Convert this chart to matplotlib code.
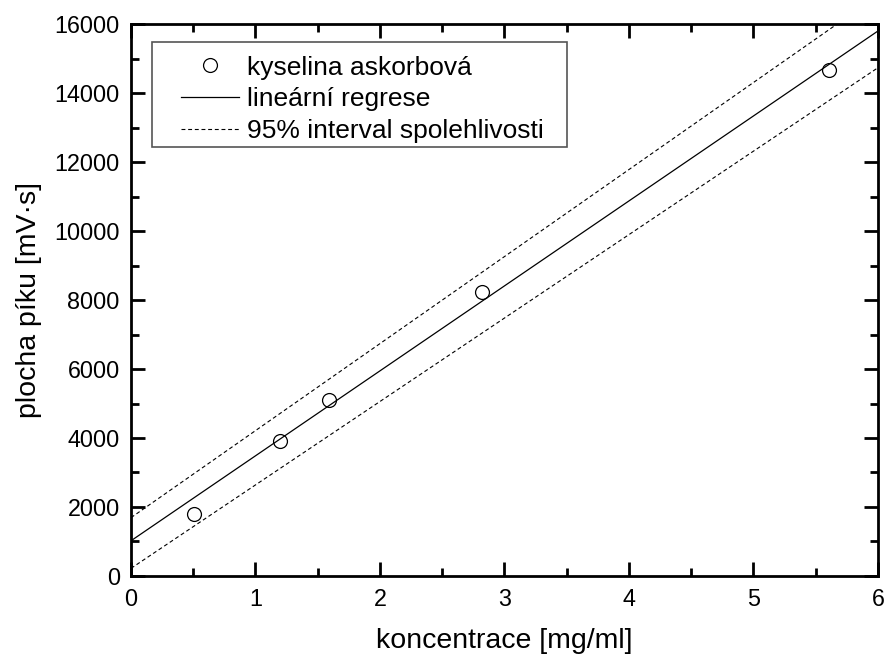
import matplotlib
matplotlib.use('Agg')
import matplotlib.pyplot as plt
from matplotlib.patches import Rectangle
from matplotlib.ticker import MultipleLocator

# Data
conc = [0.506, 1.197, 1.59, 2.82, 5.61]
area = [1800, 3915, 5100, 8235, 14670]

# regression line and 95 % band (values at x = 0 and x = 6)
fit_x = [0, 6]
fit_y = [1020, 15800]
upper_y = [1690, 16830]
lower_y = [220, 14735]

matplotlib.rc('font', family=['Liberation Sans', 'DejaVu Sans'])

fig = plt.figure(figsize=(8.85, 6.59), dpi=100)
ax = fig.add_axes([0.148, 0.126, 0.844, 0.8374])

ax.plot(conc, area, 'o', markerfacecolor='none', markeredgecolor='black',
        markersize=10, markeredgewidth=0.9, label='kyselina askorbová', zorder=3)
ax.plot(fit_x, fit_y, '-', color='black', linewidth=0.9, label='lineární regrese')
ax.plot(fit_x, upper_y, color='black', linewidth=0.8, linestyle=(0, (3.5, 2.5)),
        label='95% interval spolehlivosti')
ax.plot(fit_x, lower_y, color='black', linewidth=0.8, linestyle=(0, (3.5, 2.5)))

ax.set_xlim(0, 6)
ax.set_ylim(0, 16000)
ax.xaxis.set_major_locator(MultipleLocator(1))
ax.xaxis.set_minor_locator(MultipleLocator(0.5))
ax.yaxis.set_major_locator(MultipleLocator(2000))
ax.yaxis.set_minor_locator(MultipleLocator(1000))
ax.tick_params(which='both', direction='in', top=True, right=True,
               labelsize=16.8, width=2)
ax.tick_params(axis='x', pad=9)
ax.tick_params(axis='y', pad=8)
ax.tick_params(which='major', length=10)
ax.tick_params(which='minor', length=6)
for sp in ax.spines.values():
    sp.set_linewidth(2)

ax.set_xlabel('koncentrace [mg/ml]', fontsize=20.5, labelpad=12)
ax.set_ylabel('plocha píku [mV·s]', fontsize=20.5, labelpad=9)

# legend frame drawn separately (wider side padding than matplotlib gives)
ax.add_patch(Rectangle((0.0281, 0.7772), 0.5556, 0.1902, transform=ax.transAxes,
                       facecolor='white', edgecolor='#555555', linewidth=1.2,
                       zorder=4))
leg = ax.legend(loc='upper left', bbox_to_anchor=(0.0669, 0.943), fontsize=19,
                frameon=False, handlelength=2.2, handletextpad=0.3,
                borderpad=0, labelspacing=0.3, borderaxespad=0)
leg.set_zorder(5)

plt.savefig('out.png', dpi=100)
